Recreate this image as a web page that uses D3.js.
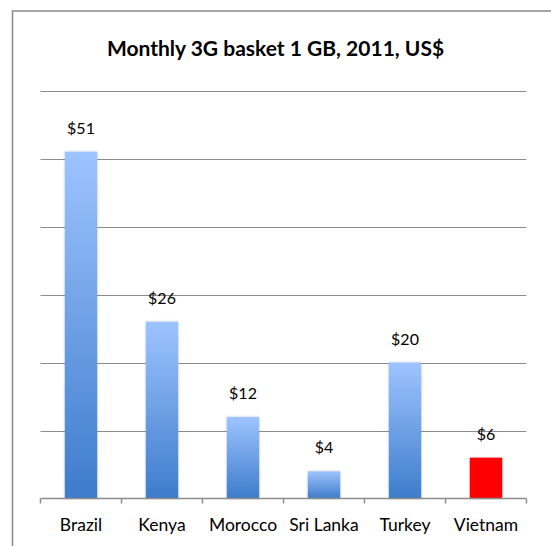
<!DOCTYPE html>
<html>
<head>
<meta charset="utf-8">
<script src="https://cdn.jsdelivr.net/npm/d3@7"></script>
<style>
  html, body { margin: 0; padding: 0; background: #ffffff; }
  svg { display: block; }
</style>
</head>
<body>
<script>
// Monthly 3G basket 1 GB, 2011, US$
const countries = ["Brazil", "Kenya", "Morocco", "Sri Lanka", "Turkey", "Vietnam"];
const prices = [51, 26, 12, 4, 20, 6];
const highlight = ["Vietnam"];
const yTicks = [0, 10, 20, 30, 40, 50, 60];
const title = "Monthly 3G basket 1 GB, 2011, US$";

const W = 551, H = 546;
const FONT = "Lato, 'Open Sans', sans-serif";

const svg = d3.select("body").append("svg")
  .attr("width", W).attr("height", H);

const defs = svg.append("defs");
const grad = defs.append("linearGradient")
  .attr("id", "barBlue").attr("x1", 0).attr("y1", 0).attr("x2", 0).attr("y2", 1);
grad.append("stop").attr("offset", "0%").attr("stop-color", "#9ec4ff");
grad.append("stop").attr("offset", "100%").attr("stop-color", "#3d7ccb");

const shadow = defs.append("filter").attr("id", "soft")
  .attr("x", "-20%").attr("y", "-10%").attr("width", "140%").attr("height", "120%");
shadow.append("feDropShadow").attr("dx", 0).attr("dy", 0)
  .attr("stdDeviation", 1.2).attr("flood-color", "#000").attr("flood-opacity", 0.25);

// chart frame (runs off the right and bottom edges)
svg.append("rect")
  .attr("x", 12.5).attr("y", 11).attr("width", 700).attr("height", 700)
  .attr("fill", "none").attr("stroke", "#8a8a8a").attr("stroke-width", 1.5);

const x = d3.scaleBand().domain(countries).range([40.5, 526.5])
  .paddingInner(0.6).paddingOuter(0.3);
const y = d3.scaleLinear().domain([0, 60]).range([498.5, 90.5]);

// horizontal gridlines
svg.append("g").selectAll("line")
  .data(yTicks.filter(t => t > 0))
  .join("line")
  .attr("x1", 40.5).attr("x2", 526.5)
  .attr("y1", d => Math.round(y(d)) + 0.5).attr("y2", d => Math.round(y(d)) + 0.5)
  .attr("stroke", "#8c8c8c").attr("stroke-width", 1.2);

// title
svg.append("text")
  .attr("x", 275.5).attr("y", 56)
  .attr("text-anchor", "middle")
  .attr("font-family", FONT).attr("font-weight", "bold").attr("font-size", 21)
  .attr("fill", "#000")
  .text(title);

// bars
svg.append("g").selectAll("rect")
  .data(countries.map((c, i) => ({ c, v: prices[i] })))
  .join("rect")
  .attr("x", d => x(d.c)).attr("width", x.bandwidth())
  .attr("y", d => y(d.v)).attr("height", d => y(0) - y(d.v))
  .attr("fill", d => highlight.includes(d.c) ? "#ff0000" : "url(#barBlue)")
  .attr("filter", "url(#soft)");

// value labels
svg.append("g").selectAll("text")
  .data(countries.map((c, i) => ({ c, v: prices[i] })))
  .join("text")
  .attr("x", d => x(d.c) + x.bandwidth() / 2)
  .attr("y", d => y(d.v) - 18)
  .attr("text-anchor", "middle")
  .attr("font-family", FONT).attr("font-size", 16).attr("fill", "#000")
  .text(d => "$" + d.v);

// category axis with ticks between bands
const gap = (x.step() - x.bandwidth()) / 2;
const bounds = countries.map(c => x(c) - gap).concat([x(countries[countries.length - 1]) + x.bandwidth() + gap]);
const axis = svg.append("g");
axis.append("line")
  .attr("x1", bounds[0]).attr("x2", bounds[bounds.length - 1])
  .attr("y1", y(0)).attr("y2", y(0))
  .attr("stroke", "#8c8c8c").attr("stroke-width", 1.5);
axis.selectAll("line.tick")
  .data(bounds).join("line").attr("class", "tick")
  .attr("x1", d => d).attr("x2", d => d)
  .attr("y1", y(0)).attr("y2", y(0) + 5)
  .attr("stroke", "#8c8c8c").attr("stroke-width", 1.5);
axis.selectAll("text")
  .data(countries).join("text")
  .attr("x", d => x(d) + x.bandwidth() / 2)
  .attr("y", 531)
  .attr("text-anchor", "middle")
  .attr("font-family", FONT).attr("font-size", 17.5).attr("fill", "#000")
  .text(d => d);
</script>
</body>
</html>
